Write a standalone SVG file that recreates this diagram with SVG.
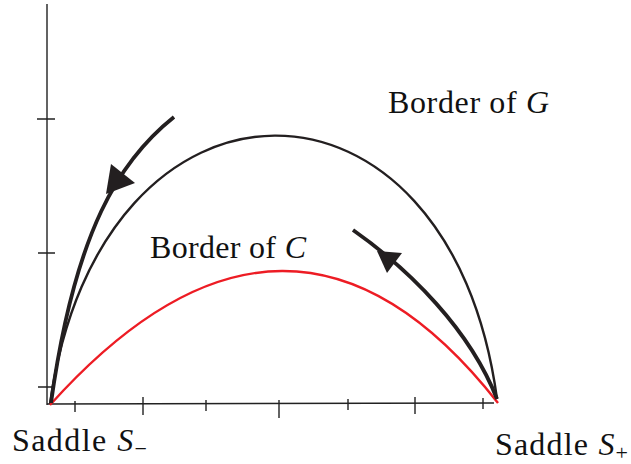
<svg xmlns="http://www.w3.org/2000/svg" width="631" height="464" viewBox="0 0 631 464">
<style>
.axis{stroke:#222;stroke-width:1.4;fill:none}
.g{stroke:#231f20;stroke-width:2.4;fill:none}
.c{stroke:#ed1c24;stroke-width:2.4;fill:none}
.traj{stroke:#231f20;stroke-width:3.8;fill:none;stroke-linecap:butt}
.head{fill:#231f20}
.lbl{font-family:"Liberation Serif","Times New Roman",serif;font-size:32px;fill:#111}
.it{font-style:italic}
.sub{font-size:22px;font-style:normal}
</style>
<rect width="631" height="464" fill="#fff"/>
<g id="axes">
<path class="axis" d="M47,4 V405 M47,404 L494,403"/>
<path class="axis" d="M37,119 H55 M38,253 H55 M38,387 H55"/>
<path class="axis" d="M75,401 V412 M143,397 V415 M206,400 V411 M279,400 V418 M348,399 V410 M415,397 V414 M483,398 V409"/>
</g>
<g id="borderG"><path class="g" d="M50,404 C100,47 450,47 497,399"/></g>
<g id="borderC"><path class="c" d="M50,405 Q290,138 498,403"/></g>
<g id="connectors">
<path class="traj" d="M174,117 C120,160 75,230 51,403"/>
<polygon class="head" points="106,194 111,164 135,183"/>
<path class="traj" d="M353,230 C410,270 470,330 497,399"/>
<polygon class="head" points="377,251 402,253 387,273"/>
</g>
<g id="labelG"><text class="lbl" x="388" y="113" textLength="161" lengthAdjust="spacing">Border of <tspan class="it">G</tspan></text></g>
<g id="labelC"><text class="lbl" x="150" y="258" textLength="156" lengthAdjust="spacing">Border of <tspan class="it">C</tspan></text></g>
<g id="saddleMinus"><text class="lbl" x="12" y="451" textLength="135" lengthAdjust="spacing">Saddle <tspan class="it">S</tspan><tspan class="sub" dy="5">−</tspan></text></g>
<g id="saddlePlus"><text class="lbl" x="495" y="455" textLength="133" lengthAdjust="spacing">Saddle <tspan class="it">S</tspan><tspan class="sub" dy="5">+</tspan></text></g>
</svg>
